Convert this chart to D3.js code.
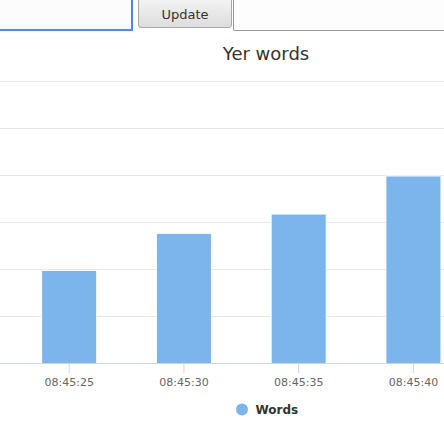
<!DOCTYPE html>
<html>
<head>
<meta charset="utf-8">
<script src="https://cdn.jsdelivr.net/npm/d3@7"></script>
<style>
  html, body { margin: 0; padding: 0; background: #ffffff; overflow: hidden; }
  body { width: 444px; height: 444px; position: relative; font-family: "DejaVu Sans", sans-serif; }
  #inp { position: absolute; left: -10px; top: -10px; width: 143px; height: 41px; background: #fcfcfc;
         border-right: 2px solid #4a90d9; border-bottom: 2px solid #4a90d9; box-sizing: border-box; }
  #btn { position: absolute; left: 138px; top: -3px; width: 94px; height: 31px; box-sizing: border-box;
         border: 1px solid #a8a8a8; border-radius: 3px; background: linear-gradient(#f4f4f4, #dddddd);
         font: 13px "DejaVu Sans", sans-serif; color: #333; text-align: center; line-height: 30px; padding-top: 2px; }
  #box { position: absolute; left: 233px; top: -10px; width: 230px; height: 41px; box-sizing: border-box;
         border-left: 1px solid #9a9a9a; border-bottom: 1px solid #9a9a9a; background: #fdfdfd; border-bottom-left-radius: 2px; }
  svg { position: absolute; left: 0; top: 0; }
</style>
</head>
<body>
<div id="inp"></div>
<div id="btn">Update</div>
<div id="box"></div>
<svg id="chart" width="444" height="444"></svg>
<script>
const categories = ["08:45:25", "08:45:30", "08:45:35", "08:45:40"];
const wordsValues = [1.98, 2.77, 3.18, 3.99];
const yTicks = [0, 1, 2, 3, 4, 5, 6];
const chartTitle = "Yer words";
const seriesName = "Words";

const svg = d3.select("#chart");
const x = d3.scaleBand().domain(categories).range([11.8, 470.8]).paddingInner(0.52).paddingOuter(0.26);
const y = d3.scaleLinear().domain([0, 6]).range([363.5, 81.5]);

// grid
svg.append("g").selectAll("line").data(yTicks.filter(d => d > 0)).join("line")
  .attr("x1", 0).attr("x2", 444)
  .attr("y1", d => Math.round(y(d)) - 0.5).attr("y2", d => Math.round(y(d)) - 0.5)
  .attr("stroke", "#e6e6e6").attr("stroke-width", 1);

// bars
svg.append("g").selectAll("rect").data(wordsValues).join("rect")
  .attr("x", (d, i) => x(categories[i]))
  .attr("width", x.bandwidth())
  .attr("y", d => y(d))
  .attr("height", d => y(0) - y(d))
  .attr("fill", "#7cb5ec")
  .attr("stroke", "#ffffff").attr("stroke-width", 1);

// x axis
const xAxis = svg.append("g").attr("transform", "translate(0,363)")
  .call(d3.axisBottom(x).tickSize(10).tickSizeOuter(0).tickPadding(5));
xAxis.select(".domain").remove();
xAxis.append("line").attr("x1", 0).attr("x2", 444).attr("y1", 0.5).attr("y2", 0.5)
  .attr("stroke", "#ccd6eb").attr("stroke-width", 1);
xAxis.selectAll(".tick line").attr("stroke", "#ccd6eb");
xAxis.selectAll(".tick text").attr("fill", "#666666")
  .style("font-family", "DejaVu Sans, sans-serif").style("font-size", "11px");

// title
svg.append("text").attr("x", 266).attr("y", 60).attr("text-anchor", "middle")
  .attr("fill", "#333333").style("font-family", "DejaVu Sans, sans-serif").style("font-size", "18px")
  .text(chartTitle);

// legend
svg.append("circle").attr("cx", 242).attr("cy", 409.5).attr("r", 6).attr("fill", "#7cb5ec");
svg.append("text").attr("x", 255.5).attr("y", 414).attr("fill", "#333333")
  .style("font-family", "DejaVu Sans, sans-serif").style("font-size", "12px").style("font-weight", "bold")
  .text(seriesName);
</script>
</body>
</html>
